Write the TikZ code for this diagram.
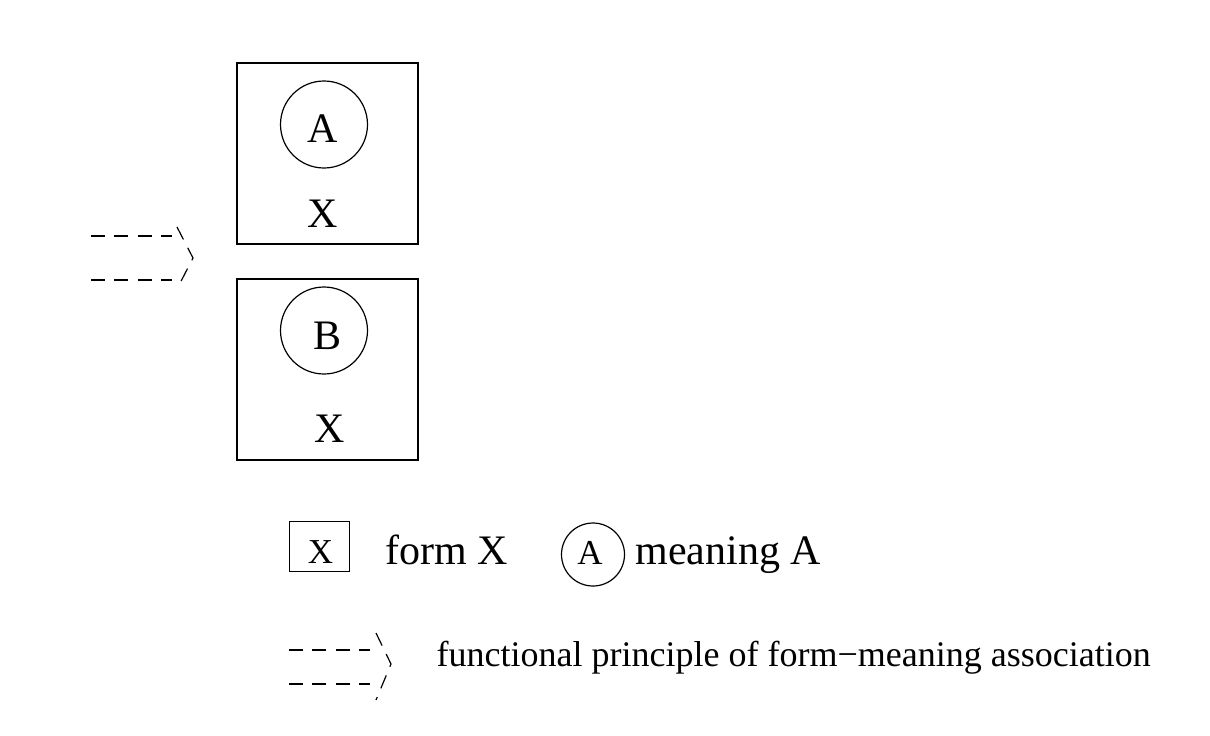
\documentclass[tikz,border=0pt]{standalone}
\usepackage{fontspec}
\setmainfont{Liberation Serif}
\usetikzlibrary{positioning}

\begin{document}
\begin{tikzpicture}[x=0.5pt,y=-0.5pt,line width=0.6pt]
\tikzstyle{every node}+=[inner sep=0pt]
\tikzstyle{bigtxt}=[font=\fontsize{21}{25}\selectfont]
\tikzstyle{smalltxt}=[font=\fontsize{17.5}{21}\selectfont]
\tikzstyle{formbox}=[draw=black,minimum width=90.5pt,minimum height=90.5pt]
\tikzstyle{meaningcirc}=[draw=black,circle,minimum size=43.5pt]
\tikzstyle{principle}=[dash pattern=on 7pt off 4.7pt,line width=0.6pt]
\useasboundingbox (0,0) rectangle (1210,735);
% the two forms
\node [formbox] (formtop) at (327.5,153.5) {};
\node [meaningcirc] (circA) at (324,124.5) {};
\node [bigtxt] (labA) at (322.5,128.5) {A};
\node [bigtxt] (formXtop) at (322.5,214) {X};
\node [formbox] (formbot) at (327.5,369.5) {};
\node [meaningcirc] (circB) at (324,330.5) {};
\node [bigtxt] (labB) at (328,335.5) {B};
\node [bigtxt] (formXbot) at (330,429) {X};
% principle arrow
\coordinate (pa1) at (91,236);
\coordinate (pa2) at (172,236);
\coordinate (pa3) at (91,280);
\coordinate (pa4) at (172,280);
\coordinate (pt1) at (177,227);
\coordinate (pt2) at (193,258);
\coordinate (pt3) at (177,289);
\draw [principle] (pa1) -- (pa2);
\draw [principle] (pa3) -- (pa4);
\draw [principle] (pt1) -- (pt2) -- (pt3);
% legend
\node [draw=black,minimum width=30pt,minimum height=25pt] (keybox) at (319.3,546.8) {};
\node [smalltxt] (keyX) at (320.5,552) {X};
\node [bigtxt,anchor=base west] (formtxt) at (385,564) {form X};
\node [draw=black,circle,minimum size=31.5pt] (keycirc) at (593,554.5) {};
\node [smalltxt] (keyA) at (590,553) {A};
\node [bigtxt,anchor=base west] (meaningtxt) at (635,564) {meaning A};
\coordinate (ka1) at (289,650);
\coordinate (ka2) at (370,650);
\coordinate (ka3) at (289,684);
\coordinate (ka4) at (370,684);
\coordinate (kt1) at (376,633);
\coordinate (kt2) at (391,664);
\coordinate (kt3) at (376,700);
\draw [principle] (ka1) -- (ka2);
\draw [principle] (ka3) -- (ka4);
\draw [principle] (kt1) -- (kt2) -- (kt3);
\node [font=\fontsize{18}{22}\selectfont,anchor=base west] (principletxt) at (436,666) {functional principle of form−meaning association};
\end{tikzpicture}
\end{document}
